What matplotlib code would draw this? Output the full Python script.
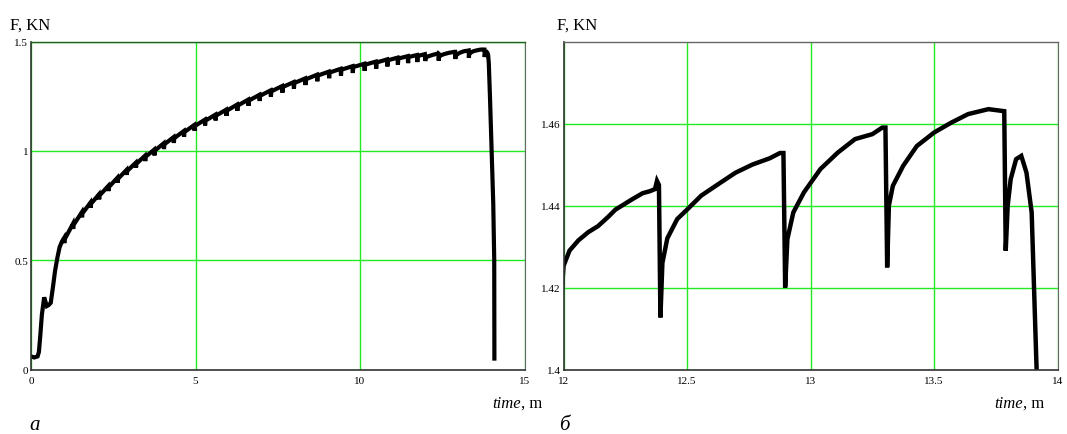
import matplotlib
matplotlib.use("Agg")
import numpy as np
import matplotlib.pyplot as plt

# --- data --------------------------------------------------------------
# start-up part of the record (time, m / force, kN)
start_t = [0.0, 0.10, 0.20, 0.24, 0.28, 0.33, 0.40, 0.44, 0.48, 0.54, 0.60,
           0.67, 0.73, 0.80, 0.87, 0.94]
start_f = [0.060, 0.055, 0.060, 0.080, 0.150, 0.250, 0.330, 0.310, 0.290,
           0.295, 0.305, 0.380, 0.450, 0.510, 0.560, 0.585]

# small unloading teeth between 1 and 12 m: time, value before the drop,
# lowest value, value after recovery
tooth_t = [1.00, 1.27, 1.54, 1.80, 2.06, 2.34, 2.62, 2.90, 3.18, 3.46, 3.74,
           4.03, 4.33, 4.64, 4.96, 5.28, 5.60, 5.93, 6.26, 6.60, 6.94, 7.28,
           7.63, 7.98, 8.33, 8.69, 9.05, 9.41, 9.77, 10.13, 10.48, 10.82,
           11.14, 11.45, 11.73, 11.97]
tooth_top = [0.600, 0.665, 0.718, 0.762, 0.800, 0.838, 0.876, 0.912, 0.945,
             0.977, 1.005, 1.034, 1.062, 1.090, 1.118, 1.142, 1.165, 1.188,
             1.211, 1.234, 1.256, 1.276, 1.296, 1.314, 1.331, 1.348, 1.362,
             1.375, 1.387, 1.398, 1.408, 1.418, 1.426, 1.433, 1.438, 1.442]
tooth_low = [0.578, 0.643, 0.696, 0.740, 0.778, 0.816, 0.854, 0.890, 0.923,
             0.953, 0.979, 1.008, 1.036, 1.064, 1.092, 1.116, 1.139, 1.160,
             1.183, 1.206, 1.228, 1.248, 1.266, 1.284, 1.301, 1.318, 1.332,
             1.344, 1.356, 1.366, 1.376, 1.386, 1.394, 1.401, 1.406, 1.411]
tooth_rec = [0.596, 0.661, 0.714, 0.758, 0.796, 0.834, 0.872, 0.908, 0.941,
             0.973, 1.001, 1.030, 1.058, 1.086, 1.114, 1.138, 1.161, 1.184,
             1.207, 1.230, 1.252, 1.272, 1.292, 1.310, 1.327, 1.344, 1.358,
             1.371, 1.383, 1.394, 1.404, 1.414, 1.422, 1.429, 1.434, 1.421]
DROP_DT = 0.012
REC_DT = 0.025

# detailed end of the record (as in the zoomed panel) and the final fall
end_t = [12.000, 12.024, 12.060, 12.100, 12.140, 12.180, 12.210, 12.250,
         12.280, 12.320, 12.350, 12.370, 12.378, 12.386, 12.392, 12.400,
         12.420, 12.460, 12.500, 12.557, 12.626, 12.696, 12.765, 12.834,
         12.876, 12.890, 12.897, 12.906, 12.930, 12.973, 13.040, 13.110,
         13.180, 13.250, 13.290, 13.303, 13.310, 13.317, 13.333, 13.375,
         13.430, 13.500, 13.569, 13.638, 13.720, 13.784, 13.790, 13.798,
         13.810, 13.832, 13.853, 13.874, 13.895, 13.915, 13.950, 14.000,
         14.050, 14.080, 14.085]
end_f = [1.4253, 1.4290, 1.4315, 1.4335, 1.4350, 1.4372, 1.4390, 1.4405,
         1.4416, 1.4430, 1.4435, 1.4440, 1.4460, 1.4450, 1.4127, 1.4260,
         1.4320, 1.4367, 1.4390, 1.4424, 1.4452, 1.4480, 1.4500, 1.4515,
         1.4528, 1.4528, 1.4200, 1.4318, 1.4383, 1.4432, 1.4489, 1.4529,
         1.4562, 1.4574, 1.4590, 1.4590, 1.4249, 1.4400, 1.4448, 1.4497,
         1.4545, 1.4578, 1.4602, 1.4623, 1.4635, 1.4630, 1.4290, 1.4400,
         1.4464, 1.4513, 1.4521, 1.4480, 1.4383, 1.4000, 1.2500, 1.0000,
         0.7600, 0.5000, 0.0500]

# axis ticks
ticks_a_x = [0, 5, 10, 15]
ticks_a_y = [0, 0.5, 1, 1.5]
labels_a_x = ["0", "5", "10", "15"]
labels_a_y = ["0", "0.5", "1", "1.5"]
ticks_b_x = [12, 12.5, 13, 13.5, 14]
ticks_b_y = [1.40, 1.42, 1.44, 1.46]
labels_b_x = ["12", "12.5", "13", "13.5", "14"]
labels_b_y = ["1.4", "1.42", "1.44", "1.46"]

W, H = 1067, 435


def build_record():
    """Join the start-up part, the teeth and the detailed end into one series"""
    t = list(start_t)
    f = list(start_f)
    for i in range(len(tooth_t)):
        t += [tooth_t[i], tooth_t[i] + DROP_DT, tooth_t[i] + REC_DT]
        f += [tooth_top[i], tooth_low[i], tooth_rec[i]]
    t += end_t
    f += end_f
    return np.array(t), np.array(f)


def style_axes(ax, xlim, ylim, xt, xl, yt, yl, top_color):
    ax.set_xlim(*xlim)
    ax.set_ylim(*ylim)
    ax.set_xticks(xt)
    ax.set_xticklabels(xl)
    ax.set_yticks(yt)
    ax.set_yticklabels(yl)
    ax.tick_params(length=0, labelsize=8)
    ax.tick_params(axis="x", pad=5)
    ax.tick_params(axis="y", pad=2)
    ax.grid(True, color="#22ea22", linewidth=1.0)
    ax.set_axisbelow(True)
    for s in ["left", "bottom"]:
        ax.spines[s].set_color("#333333")
        ax.spines[s].set_linewidth(1.2)
    ax.spines["top"].set_color(top_color)
    ax.spines["right"].set_color("#666666")
    ax.spines["top"].set_linewidth(1.0)
    ax.spines["right"].set_linewidth(0.8)


def axis_titles(fig, ax, x_f, x_time):
    fig.text(x_f / W, 1 - 30 / H, "F, KN", fontsize=12, va="baseline")
    t1 = fig.text(x_time / W, 1 - 412 / H, "time", fontsize=12,
                  style="italic", va="bottom")
    ax.annotate(", m", xy=(1, 0), xycoords=t1, fontsize=12,
                va="bottom", ha="left", annotation_clip=False)


plt.rcParams["font.family"] = ["Liberation Serif", "DejaVu Serif"]

t, f = build_record()

fig = plt.figure(figsize=(W / 100, H / 100), dpi=100)
ax1 = fig.add_axes([31 / W, 1 - 370.5 / H, 493.5 / W, 328 / H])
ax2 = fig.add_axes([563.6 / W, 1 - 370.5 / H, 494 / W, 328 / H])

ax1.plot(t, f, color="black", linewidth=3.0, solid_joinstyle="miter")
style_axes(ax1, (0, 15), (0, 1.5), ticks_a_x, labels_a_x,
           ticks_a_y, labels_a_y, "#1f5f1f")

ax2.plot(t, f, color="black", linewidth=3.2, solid_joinstyle="miter")
style_axes(ax2, (12, 14), (1.4, 1.48), ticks_b_x, labels_b_x,
           ticks_b_y, labels_b_y, "#666666")

axis_titles(fig, ax1, 10, 492)
axis_titles(fig, ax2, 557, 994)

fig.text(29 / W, 1 - 430 / H, "а", fontsize=15, style="italic")
fig.text(559 / W, 1 - 430 / H, "б", fontsize=15, style="italic")

fig.savefig("out.png", dpi=100, facecolor="white")
plt.close(fig)
